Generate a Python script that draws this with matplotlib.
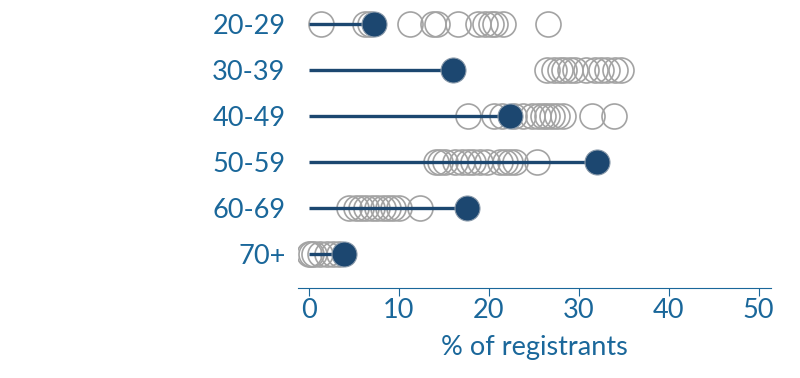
import numpy as np
import matplotlib.pyplot as plt

plt.rcParams['font.family'] = ['Lato', 'DejaVu Sans']

# age groups and the highlighted value for each
groups = ['20-29', '30-39', '40-49', '50-59', '60-69', '70+']
highlight = [7.3, 16.0, 22.4, 32.0, 17.6, 3.9]

# other values (grey circles) per group
others = [
    [1.4, 6.2, 6.8, 11.2, 13.8, 14.3, 16.6, 18.8, 19.6, 20.2, 20.7, 21.6, 26.6],
    [26.5, 27.3, 27.9, 28.4, 29.0, 29.6, 30.8, 31.8, 32.5, 33.2, 34.0, 34.7],
    [17.7, 20.6, 21.5, 22.8, 23.8, 24.8, 25.5, 26.0, 26.5, 27.0, 27.6, 28.3, 31.5, 33.9],
    [14.1, 14.6, 15.1, 16.3, 17.0, 17.7, 18.3, 19.0, 19.8, 21.3, 21.8, 22.4, 22.9, 25.4],
    [4.5, 5.2, 5.8, 6.4, 7.0, 7.6, 8.2, 8.8, 9.4, 10.0, 12.4],
    [0.0, 0.3, 0.6, 1.3, 2.0, 2.7, 3.4],
]
xticks = [0, 10, 20, 30, 40, 50]

text_col = '#1a679a'
dark = '#1c4770'

fig = plt.figure(figsize=(8, 3.78), dpi=100)
ax = fig.add_axes([0.3725, 0.238, 0.964 - 0.3725, 0.762])

for i, g in enumerate(groups):
    ax.plot(others[i], [i] * len(others[i]), 'o', ms=18, mfc='none',
            mec='#a3a3a3', mew=1.2, zorder=2)
    ax.plot([0, highlight[i]], [i, i], color=dark, lw=2.4, zorder=3,
            solid_capstyle='butt')
    ax.plot(highlight[i], i, 'o', ms=18, mfc=dark, mec='#8a9aaa', mew=0.8,
            zorder=4)

ax.set_xlim(-1.2, 51.4)
ax.set_ylim(5.74, -0.52)
ax.set_yticks(range(len(groups)))
ax.set_yticklabels(groups)
ax.set_xticks(xticks)
ax.set_xlabel('% of registrants', fontsize=19.5, color=text_col, labelpad=9)

for s in ['top', 'right', 'left']:
    ax.spines[s].set_visible(False)
ax.spines['bottom'].set_color(text_col)
ax.tick_params(axis='y', length=0, pad=9, labelsize=19.5, labelcolor=text_col)
ax.tick_params(axis='x', length=6, color=text_col, labelsize=19.5,
               labelcolor=text_col, pad=1)

fig.savefig('out.png', dpi=100)
